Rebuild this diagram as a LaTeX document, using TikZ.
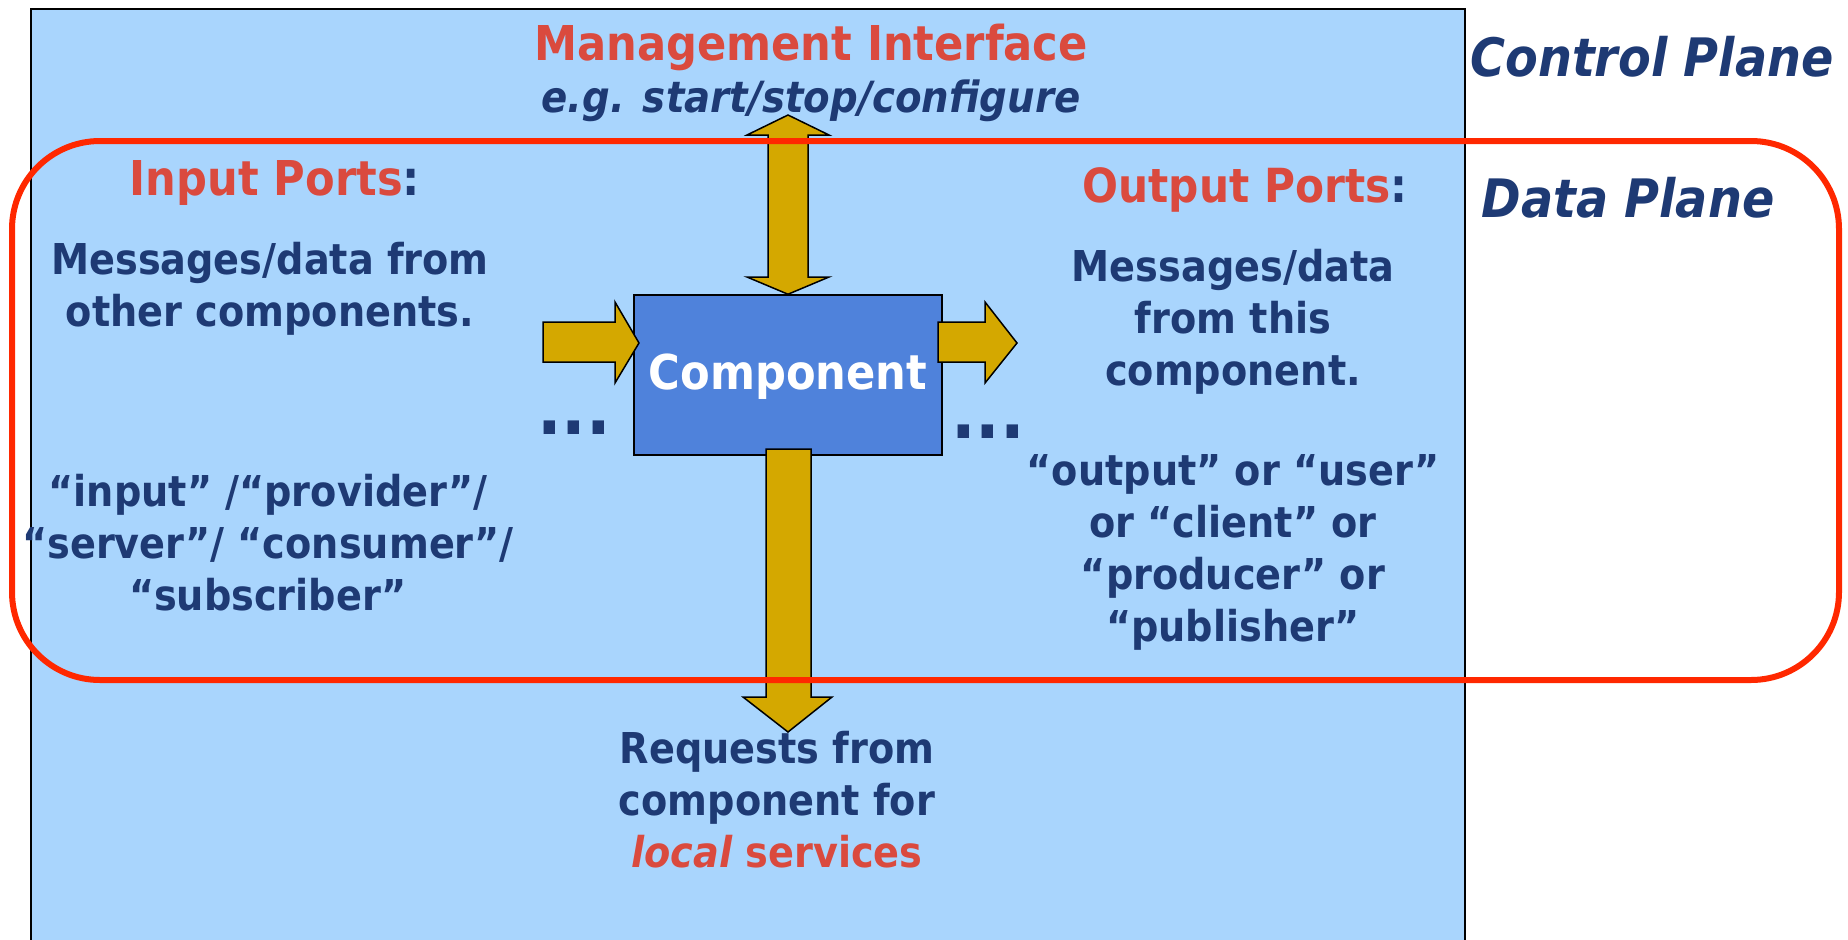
\documentclass[tikz,border=0pt]{standalone}
\usepackage{fontspec}
\setmainfont{DejaVu Sans Condensed}
\usetikzlibrary{calc}
\definecolor{bgblue}{RGB}{169,213,253}
\definecolor{compblue}{RGB}{79,130,219}
\definecolor{gold}{RGB}{212,168,0}
\definecolor{txtblue}{RGB}{30,58,116}
\definecolor{txtred}{RGB}{218,74,62}
\definecolor{framered}{RGB}{255,40,0}
\begin{document}
\begin{tikzpicture}[x=1pt,y=-1pt,
  body/.style={text=txtblue,font=\bfseries\fontsize{42.5}{52}\selectfont,align=center,inner sep=0pt},
  title/.style={text=txtred,font=\bfseries\fontsize{48}{52}\selectfont,align=center,inner sep=0pt},
  plane/.style={text=txtblue,font=\bfseries\itshape\fontsize{53}{56}\selectfont,inner sep=0pt},
  blockarrow/.style={draw=black,line width=1.5pt,fill=gold,line join=miter},
  dots/.style={text=txtblue,font=\bfseries\fontsize{72}{72}\selectfont,inner sep=0pt}]
\useasboundingbox (0,0) rectangle (1848,940);
% background panel
\fill[bgblue] (31,9) rectangle (1465,950);
\draw[black,line width=1.5pt] (31,950) -- (31,9) -- (1465,9) -- (1465,950);
% texts
\node[title] (mgmt) at (811,47) {Management Interface};
\node[body,font=\bfseries\itshape\fontsize{43}{51}\selectfont] (eg) at (811,101) {e.g. start/stop/configure};
\node[plane] (cp) at (1652,57) {Control Plane};
\node[plane] (dp) at (1628,198) {Data Plane};
\node[title] (inp) at (275,183) {Input Ports\textcolor{txtblue}{:}};
\node[title,font=\bfseries\fontsize{47}{52}\selectfont] (outp) at (1245,190) {Output Ports\textcolor{txtblue}{:}};
\node[body] (inmsg) at (270,289) {Messages/data from\\other components.};
\node[body] (outmsg) at (1233,322) {Messages/data\\from this\\component.};
\node[body] (inq) at (268,543) {“input” /“provider”/\\“server”/ “consumer”/\\“subscriber”};
\node[body] (outq) at (1233,552) {“output” or “user”\\or “client” or\\“producer” or\\“publisher”};
\node[body] (req) at (777,800) {Requests from\\component for\\\textcolor{txtred}{\itshape local} \textcolor{txtred}{services}};
\node[dots] (ldots) at (574,428) {...};
\node[dots] (rdots) at (988,432) {...};
% component
\node[draw=black,line width=1.5pt,fill=compblue,minimum width=308pt,minimum height=160pt,inner sep=0pt] (comp) at (788,375) {};
% block arrows
\coordinate (intip) at (639,343);
\coordinate (outtip) at (1017,343);
\coordinate (botip) at (788,732);
\coordinate (toptip) at (788,115);
\draw[blockarrow] (543,322) -- (615,322) -- (615,302) -- (intip) -- (615,383) -- (615,362) -- (543,362) -- cycle;
\draw[blockarrow] (938,322) -- (985,322) -- (985,302) -- (outtip) -- (985,383) -- (985,362) -- (938,362) -- cycle;
\draw[blockarrow] (toptip) -- (829,135) -- (808,135) -- (808,277) -- (829,277) -- (comp.north) -- (747,277) -- (768,277) -- (768,135) -- (747,135) -- cycle;
\draw[blockarrow] (766,449) -- (811,449) -- (811,697) -- (832,697) -- (botip) -- (743,697) -- (766,697) -- cycle;
\node[text=white,font=\bfseries\fontsize{48}{52}\selectfont,inner sep=0pt] (compl) at (788,377) {Component};
% data plane frame
\draw[framered,line width=6pt,rounded corners=88pt] (12,141) rectangle (1839,680);
\end{tikzpicture}
\end{document}
